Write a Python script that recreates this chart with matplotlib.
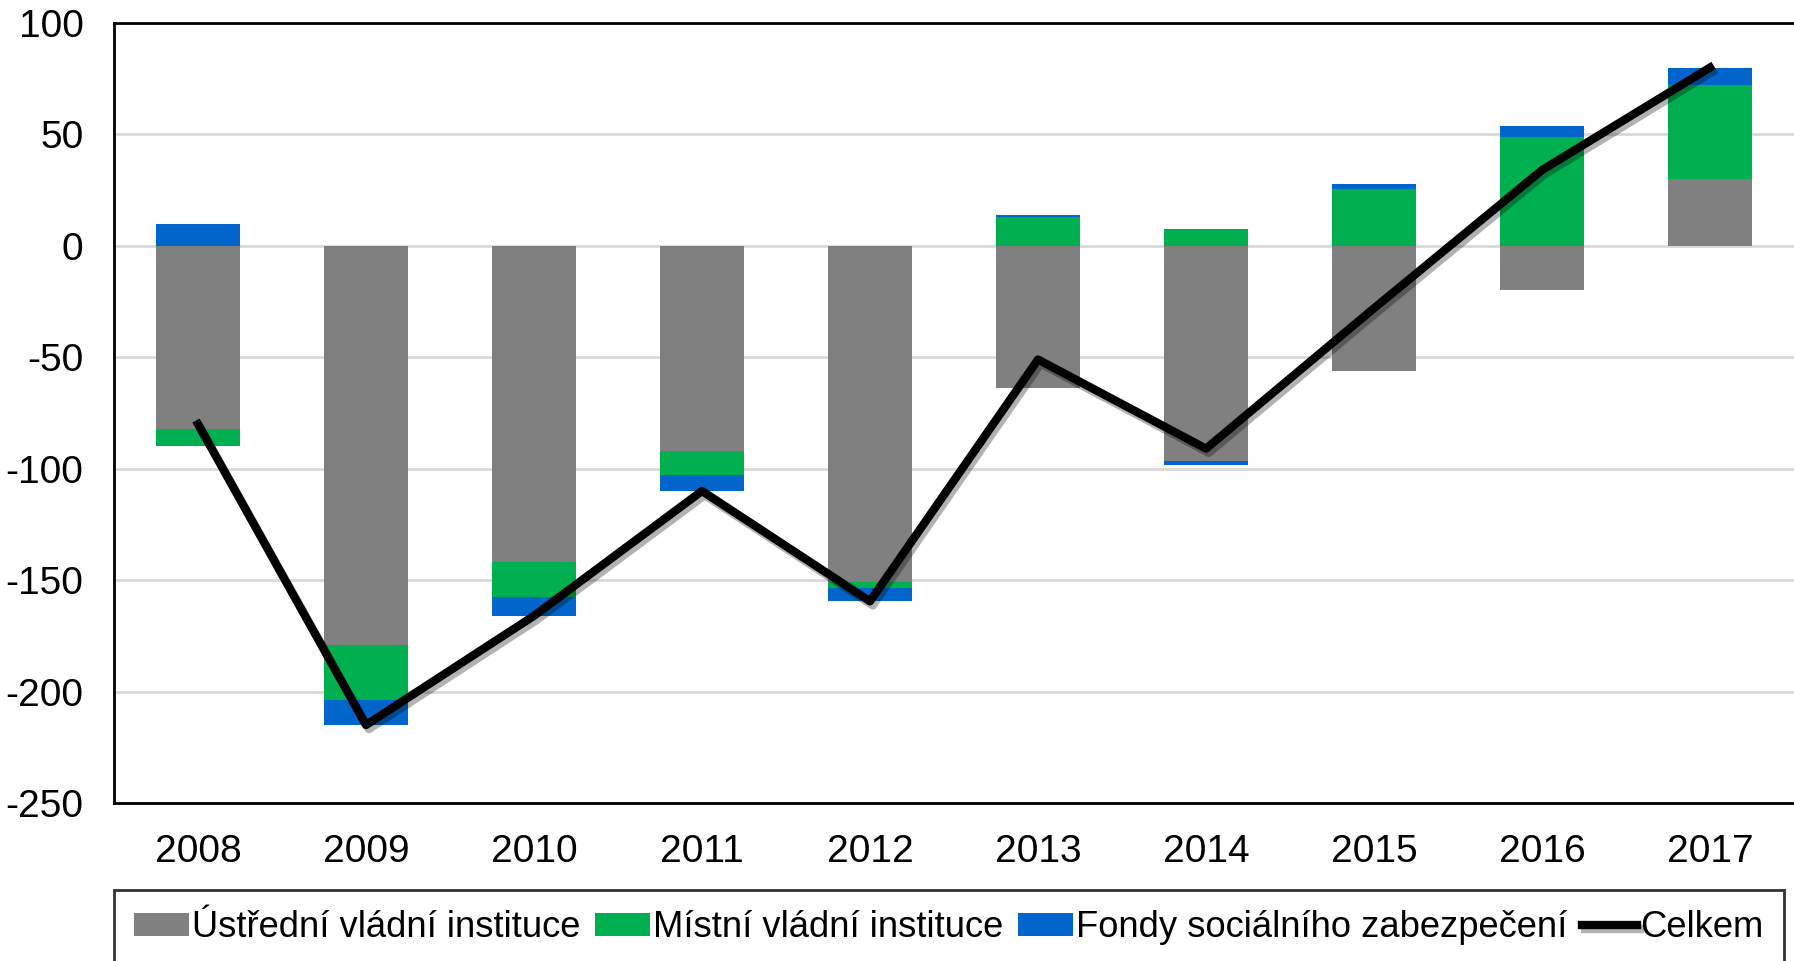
import matplotlib
matplotlib.use("Agg")
import matplotlib.pyplot as plt
import matplotlib.patheffects as pe
import numpy as np

plt.rcParams['font.family'] = ['Liberation Sans', 'DejaVu Sans']
plt.rcParams['axes.unicode_minus'] = False

years = ['2008', '2009', '2010', '2011', '2012', '2013', '2014', '2015', '2016', '2017']
ustredni = [-82, -179, -142, -92, -151, -64, -96.5, -56, -20, 30]
mistni = [-8, -25, -15.5, -11, -2.5, 13, 7.7, 25.7, 49, 42]
fondy = [10, -11, -8.5, -7, -6, 0.7, -2, 2, 5, 8]
celkem = [-80, -215, -166, -110, -159.5, -51, -91, -28, 34, 80]

labels = ['Ústřední vládní instituce', 'Místní vládní instituce',
          'Fondy sociálního zabezpečení', 'Celkem']
colors = ['#808080', '#00B050', '#0066CC']

fig = plt.figure(figsize=(17.94, 9.61), dpi=100)
ax = fig.add_axes([114/1794, 1 - 803/961, 1680/1794, 780/961])

x = np.arange(len(years))
pos = np.zeros(len(years))
neg = np.zeros(len(years))
handles = []
for series, col, lab in zip([ustredni, mistni, fondy], colors, labels[:3]):
    v = np.array(series, dtype=float)
    bottom = np.where(v >= 0, pos, neg)
    h = ax.bar(x, v, width=0.5, bottom=bottom, color=col, label=lab, zorder=2)
    handles.append(h)
    pos = pos + np.where(v >= 0, v, 0)
    neg = neg + np.where(v < 0, v, 0)

ln, = ax.plot(x, celkem, color='black', lw=6, zorder=3, label=labels[3],
              path_effects=[pe.SimpleLineShadow(offset=(2, -3), alpha=0.3),
                            pe.Normal()])
handles.append(ln)

ax.set_xlim(-0.5, len(years) - 0.5)
ax.set_ylim(-250, 100)
ax.set_yticks(range(-250, 101, 50))
ax.set_xticks(x)
ax.set_xticklabels(years)
ax.tick_params(axis='both', length=0, labelsize=28)
ax.tick_params(axis='y', pad=22)
ax.tick_params(axis='x', pad=22)
ax.yaxis.grid(True, color='#d9d9d9', lw=2, zorder=0)
ax.set_axisbelow(True)
for s in ['left', 'top', 'bottom']:
    ax.spines[s].set_color('black')
    ax.spines[s].set_linewidth(2)
ax.spines['right'].set_visible(False)

leg = fig.legend(handles=handles, labels=labels, loc='upper left',
                 bbox_to_anchor=(114/1794, 1 - 890/961), ncol=4, fontsize=26.2,
                 frameon=True, fancybox=False, handlelength=1.5,
                 handleheight=0.6, handletextpad=0.1, columnspacing=0.4,
                 borderpad=0.55, borderaxespad=0)
leg.get_frame().set_edgecolor('black')
leg.get_frame().set_linewidth(2)

fig.savefig('out.png', dpi=100)
